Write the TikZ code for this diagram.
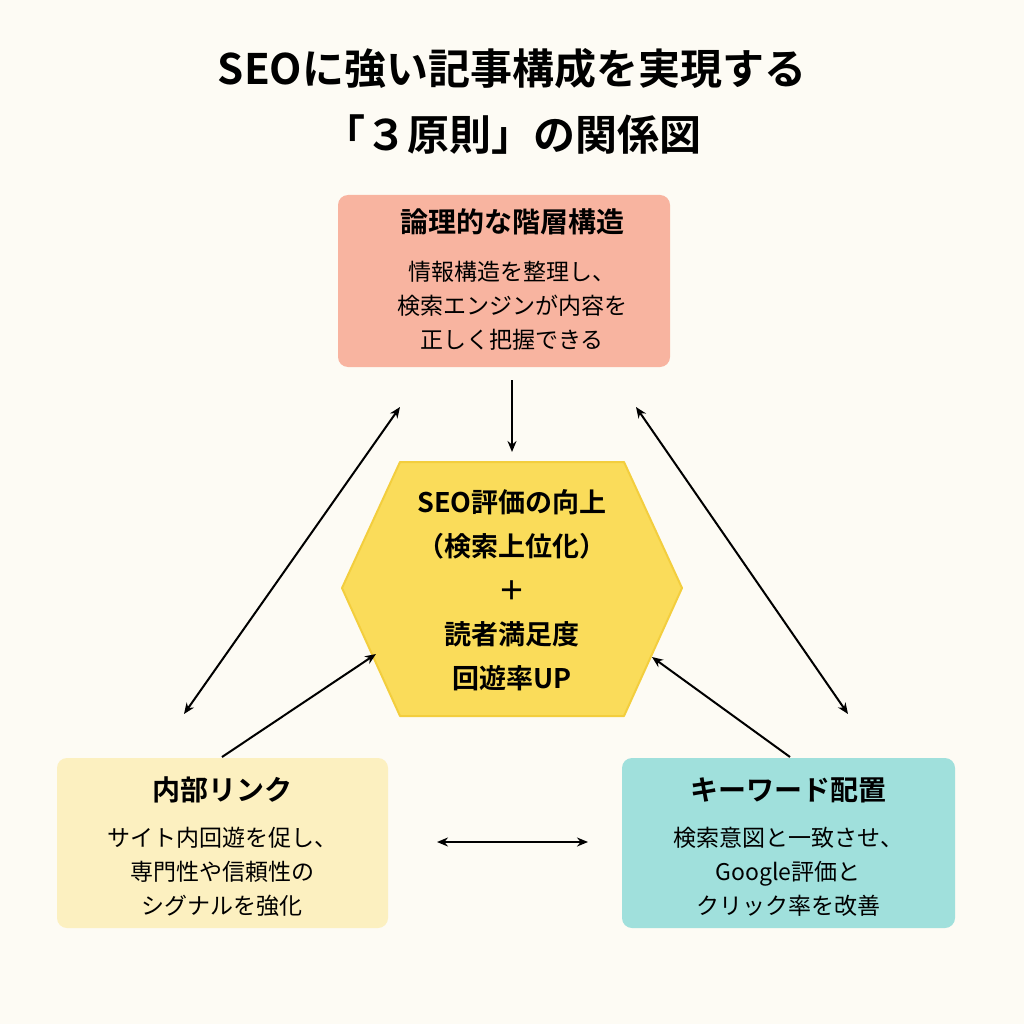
\documentclass[tikz,border=0pt]{standalone}
\usepackage{fontspec}
\setmainfont{Noto Sans CJK JP}
\newfontfamily\jpb{Noto Sans CJK JP Bold}
\usetikzlibrary{arrows.meta}
\definecolor{bg}{HTML}{FDFBF4}
\definecolor{topc}{HTML}{F8B4A0}
\definecolor{hexc}{HTML}{FADC5A}
\definecolor{hexd}{HTML}{F3CE3E}
\definecolor{leftc}{HTML}{FCF0C0}
\definecolor{rightc}{HTML}{A0E0DC}
\tikzset{box/.style={rounded corners=10pt},
 arr/.style={-{Stealth[length=11pt,width=9pt]},line width=2pt},
 darr/.style={{Stealth[length=11pt,width=9pt]}-{Stealth[length=11pt,width=9pt]},line width=2pt},
 ttl/.style={font=\jpb\fontsize{28}{32}\selectfont},
 txt/.style={font=\fontsize{23}{34}\selectfont,align=center}}
\begin{document}
\begin{tikzpicture}[x=1pt,y=-1pt]
\fill[bg] (0,0) rectangle (1024,1024);
\useasboundingbox (0,0) rectangle (1024,1024);
\node[font=\jpb\fontsize{42}{66}\selectfont,align=center] (title) at (512,101) {SEOに強い記事構成を実現する\\「３原則」の関係図};
\fill[topc,box] (338,195) rectangle (670,367);
\node[ttl] (tt) at (512,222) {論理的な階層構造};
\node[txt] (tb) at (512,306) {情報構造を整理し、\\検索エンジンが内容を\\正しく把握できる};
\filldraw[fill=hexc,draw=hexd,line width=2pt,line join=round] (342,588)--(400,462)--(624,462)--(682,588)--(624,716)--(400,716)--cycle;
\node[font=\jpb\fontsize{27}{44}\selectfont,align=center] (hex) at (512,590) {SEO評価の向上\\（検索上位化）\\＋\\読者満足度\\回遊率UP};
\fill[leftc,box] (57,758) rectangle (388,928);
\node[ttl] (lt) at (222,790) {内部リンク};
\node[txt] (lb) at (222,872) {サイト内回遊を促し、\\専門性や信頼性の\\シグナルを強化};
\fill[rightc,box] (622,758) rectangle (955,928);
\node[ttl] (rt) at (788,790) {キーワード配置};
\node[txt] (rb) at (788,872) {検索意図と一致させ、\\Google評価と\\クリック率を改善};
\coordinate (a1) at (512,380); \coordinate (a2) at (512,452);
\coordinate (l1) at (400,407); \coordinate (l2) at (184,714);
\coordinate (r1) at (636,407); \coordinate (r2) at (848,714);
\coordinate (lh1) at (222,757); \coordinate (lh2) at (376,654);
\coordinate (rh1) at (790,757); \coordinate (rh2) at (652,657);
\coordinate (h1) at (437,842); \coordinate (h2) at (588,842);
\draw[arr] (a1)--(a2);
\draw[darr] (l1)--(l2);
\draw[darr] (r1)--(r2);
\draw[arr] (lh1)--(lh2);
\draw[arr] (rh1)--(rh2);
\draw[darr] (h1)--(h2);
\end{tikzpicture}
\end{document}
